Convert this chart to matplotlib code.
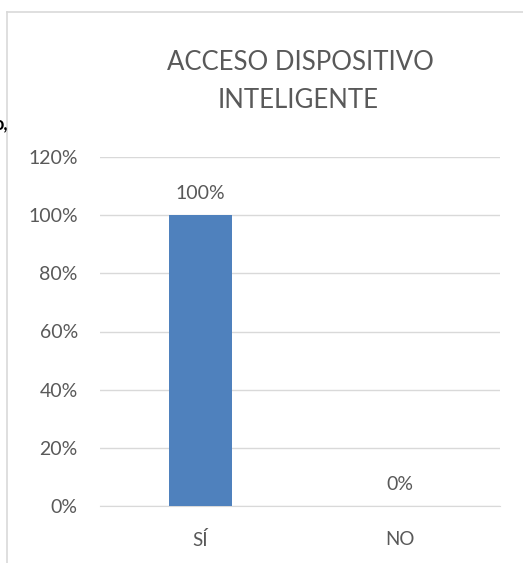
import matplotlib.pyplot as plt
from matplotlib.lines import Line2D

categories = ["SÍ", "NO"]
values = [100, 0]
value_labels = ["100%", "0%"]
y_ticks = [0, 20, 40, 60, 80, 100, 120]

W, H = 523, 563
plt.rcParams["font.family"] = ["Lato", "DejaVu Sans"]

fig = plt.figure(figsize=(W / 100, H / 100), dpi=100)
ax = fig.add_axes([100 / W, 1 - 506 / H, 400 / W, (506 - 157) / H])

gray = "#595959"
x = range(len(categories))
ax.bar(x, values, width=0.315, color="#4F81BD", zorder=3)
for i, v in enumerate(values):
    ax.text(i, v + 4.5, value_labels[i], ha="center", va="bottom", fontsize=14, color=gray)

ax.set_xlim(-0.5, 1.5)
ax.set_ylim(0, 120)
ax.set_yticks(y_ticks)
ax.set_yticklabels([f"{t}%" for t in y_ticks])
ax.set_xticks(list(x))
ax.set_xticklabels(categories)
ax.tick_params(axis="y", length=0, pad=16, labelsize=14, labelcolor=gray)
ax.tick_params(axis="x", length=0, pad=18, labelsize=13.5, labelcolor=gray)
ax.grid(axis="y", color="#D9D9D9", linewidth=1, zorder=0)
for s in ["top", "right", "left"]:
    ax.spines[s].set_visible(False)
ax.spines["bottom"].set_color("#D9D9D9")

fig.text(300 / W, 1 - 62 / H, "ACCESO DISPOSITIVO", ha="center", va="center", fontsize=18.5, color=gray)
fig.text(298 / W, 1 - 100 / H, "INTELIGENTE", ha="center", va="center", fontsize=18.5, color=gray)

# chart frame edges
fig.add_artist(Line2D([7 / W, 7 / W], [0, 1 - 12 / H], color="#D9D9D9", linewidth=1.2))
fig.add_artist(Line2D([7 / W, 1], [1 - 12 / H, 1 - 12 / H], color="#D9D9D9", linewidth=1.2))

# stray text fragment at the left edge
fig.text(-7 / W, 1 - 124 / H, "o,", ha="left", va="center", fontsize=13, fontweight="bold", color="black")

fig.savefig("out.png", dpi=100)
